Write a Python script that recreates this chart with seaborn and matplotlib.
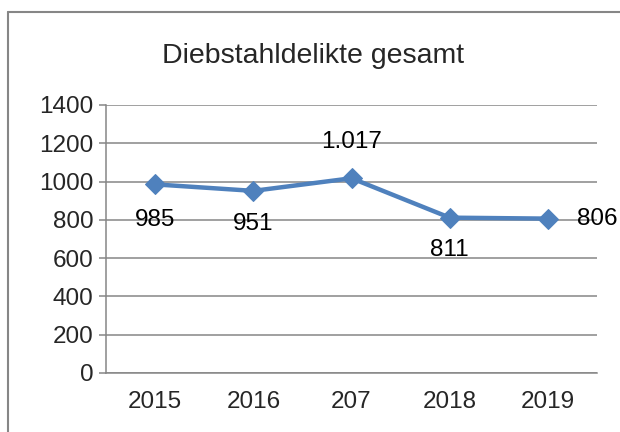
import matplotlib
matplotlib.use("Agg")
import matplotlib.pyplot as plt
from matplotlib.lines import Line2D
import seaborn as sns
import pandas as pd

# chart data
years = ["2015", "2016", "207", "2018", "2019"]
cases = [985, 951, 1017, 811, 806]
labels = ["985", "951", "1.017", "811", "806"]

# label placement (offset in points, alignment) - style only
label_offsets = [(0, -26), (0, -24), (0, 26), (0, -23), (21, 0)]
label_ha = ["center", "center", "center", "center", "left"]

sns.set_theme(style="white")
plt.rcParams['font.family'] = ['Liberation Sans', 'DejaVu Sans']

df = pd.DataFrame({"Jahr": years, "Delikte": cases})

fig = plt.figure(figsize=(6.2, 4.32), dpi=100)
ax = fig.add_axes([0.171, 0.137, 0.792, 0.620])

grey = "#868686"
blue = "#4F81BD"

sns.lineplot(data=df, x="Jahr", y="Delikte", ax=ax, sort=False,
             color=blue, linewidth=3.2, marker="D", markersize=10,
             markeredgecolor=blue, zorder=3)

for i, (val, txt) in enumerate(zip(cases, labels)):
    ax.annotate(txt, (i, val), xytext=label_offsets[i], textcoords="offset points",
                ha=label_ha[i], va="center", fontsize=17.5, color="black", zorder=4)

ax.set_ylim(0, 1400)
ax.set_yticks(range(0, 1401, 200))
ax.set_xlim(-0.5, len(years) - 0.5)
ax.set_xlabel("")
ax.set_ylabel("")
ax.yaxis.grid(True, color=grey, linewidth=1.1)
ax.set_axisbelow(True)

for side in ["top", "right"]:
    ax.spines[side].set_visible(False)
for side in ["left", "bottom"]:
    ax.spines[side].set_color(grey)
    ax.spines[side].set_linewidth(1.1)

# x ticks: labels centred on categories, tick marks on category boundaries
ax.set_xticks(range(len(years)))
ax.set_xticklabels(years)
ax.set_xticks([i - 0.5 for i in range(len(years) + 1)], minor=True)
ax.tick_params(axis="x", which="major", length=0, pad=13, labelsize=17.5)
ax.tick_params(axis="x", which="minor", length=6, width=1.1, color=grey, direction="out")
ax.tick_params(axis="y", which="major", length=5, width=1.1, color=grey,
               direction="out", pad=4, labelsize=17.5)
ax.tick_params(left=True, bottom=True)

fig.text(0.505, 0.870, "Diebstahldelikte gesamt", ha="center", va="center", fontsize=20.5)

# chart area border (top and left edges visible)
fig.add_artist(Line2D([8 / 620, 8 / 620], [0, 1 - 12 / 432], transform=fig.transFigure,
                      color=grey, linewidth=1.5))
fig.add_artist(Line2D([8 / 620, 1], [1 - 12 / 432, 1 - 12 / 432], transform=fig.transFigure,
                      color=grey, linewidth=1.5))

fig.savefig("out.png", dpi=100)
